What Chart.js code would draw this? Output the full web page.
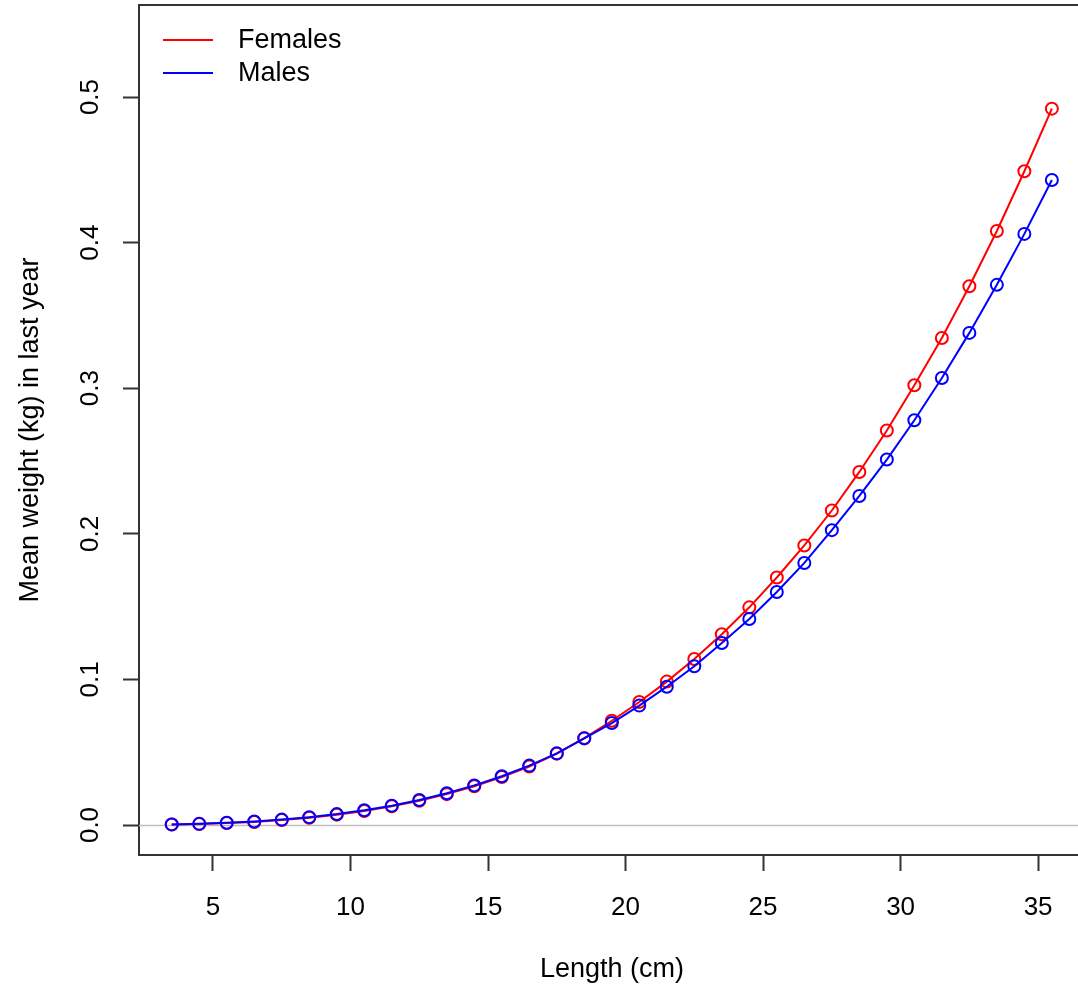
<!DOCTYPE html>
<html>
<head>
<meta charset="utf-8">
<script src="https://cdn.jsdelivr.net/npm/chart.js@4.4.1/dist/chart.umd.min.js"></script>
<style>
  html, body { margin: 0; padding: 0; background: #fff; }
  canvas { display: block; }
</style>
</head>
<body>
<canvas id="graph" width="1078" height="993"></canvas>
<script>
const lengths = [3.5, 4.5, 5.5, 6.5, 7.5, 8.5, 9.5, 10.5, 11.5, 12.5, 13.5, 14.5, 15.5, 16.5, 17.5, 18.5,
  19.5, 20.5, 21.5, 22.5, 23.5, 24.5, 25.5, 26.5, 27.5, 28.5, 29.5, 30.5, 31.5, 32.5, 33.5, 34.5, 35.5]

const females = [0.0003, 0.0007, 0.0013, 0.0021, 0.0034, 0.005, 0.0071, 0.0096, 0.0128, 0.0166, 0.0212,
  0.0266, 0.0329, 0.0402, 0.049, 0.0597, 0.0716, 0.0845, 0.0985, 0.114, 0.131, 0.1495, 0.17, 0.192,
  0.216, 0.2425, 0.271, 0.302, 0.3345, 0.37, 0.408, 0.449, 0.492]

const males = [0.0004, 0.0008, 0.0015, 0.0024, 0.0037, 0.0054, 0.0075, 0.0101, 0.0133, 0.0172, 0.0218,
  0.0272, 0.0335, 0.0408, 0.0492, 0.0595, 0.07, 0.082, 0.095, 0.109, 0.125, 0.1415, 0.16, 0.18,
  0.2025, 0.226, 0.251, 0.278, 0.307, 0.338, 0.371, 0.406, 0.443]

const xTicks = [5, 10, 15, 20, 25, 30, 35]
const yTicks = [0, 0.1, 0.2, 0.3, 0.4, 0.5]
const yTickLabels = ['0.0', '0.1', '0.2', '0.3', '0.4', '0.5']

const seriesNames = ['Females', 'Males']
const seriesColors = ['#ff0000', '#0000ff']

const FONT = '"Liberation Sans", Arial, sans-serif'
const AXIS = '#333333'

const toPoints = (ys) => lengths.map((x, i) => ({ x, y: ys[i] }))

// zero line, box top, rotated y labels, axis titles and legend
const rDecor = {
  id: 'rDecor',
  beforeDatasetsDraw(chart) {
    const { ctx, chartArea: { left, right }, scales: { y } } = chart
    ctx.save()
    ctx.strokeStyle = '#bebebe'
    ctx.lineWidth = 1.5
    const y0 = Math.round(y.getPixelForValue(0)) + 0.5
    ctx.beginPath()
    ctx.moveTo(left, y0)
    ctx.lineTo(right, y0)
    ctx.stroke()
    ctx.restore()
  },
  afterDraw(chart) {
    const { ctx, chartArea: { left, right, top, bottom }, scales: { y } } = chart
    ctx.save()
    // top of the box
    ctx.strokeStyle = AXIS
    ctx.lineWidth = 2
    ctx.beginPath()
    ctx.moveTo(left - 1, top)
    ctx.lineTo(right, top)
    ctx.stroke()

    ctx.fillStyle = '#000'
    ctx.font = '26px ' + FONT
    ctx.textAlign = 'center'
    ctx.textBaseline = 'middle'
    yTicks.forEach((v, i) => {
      ctx.save()
      ctx.translate(91, y.getPixelForValue(v))
      ctx.rotate(-Math.PI / 2)
      ctx.fillText(yTickLabels[i], 0, 0)
      ctx.restore()
    })

    ctx.font = '27px ' + FONT
    ctx.save()
    ctx.translate(31, (top + bottom) / 2)
    ctx.rotate(-Math.PI / 2)
    ctx.fillText('Mean weight (kg) in last year', 0, 0)
    ctx.restore()

    ctx.fillText('Length (cm)', 612, 970)

    // legend
    ctx.textAlign = 'left'
    ctx.lineWidth = 2
    const rows = [40, 73]
    seriesNames.forEach((name, i) => {
      ctx.strokeStyle = seriesColors[i]
      ctx.beginPath()
      ctx.moveTo(163, rows[i])
      ctx.lineTo(213, rows[i])
      ctx.stroke()
      ctx.fillText(name, 238, rows[i] + 1)
    })
    ctx.restore()
  }
}

new Chart(document.getElementById('graph'), {
  type: 'line',
  plugins: [rDecor],
  data: {
    datasets: [
      {
        label: seriesNames[1],
        data: toPoints(males),
        borderColor: seriesColors[1],
        borderWidth: 2,
        pointRadius: 6,
        pointBorderWidth: 2,
        pointBorderColor: seriesColors[1],
        pointBackgroundColor: 'rgba(0,0,0,0)',
        tension: 0
      },
      {
        label: seriesNames[0],
        data: toPoints(females),
        borderColor: seriesColors[0],
        borderWidth: 2,
        pointRadius: 6,
        pointBorderWidth: 2,
        pointBorderColor: seriesColors[0],
        pointBackgroundColor: 'rgba(0,0,0,0)',
        tension: 0
      }
    ]
  },
  options: {
    responsive: false,
    animation: false,
    layout: { autoPadding: false, padding: { top: 5, left: 0, right: 0, bottom: 0 } },
    plugins: { legend: { display: false }, tooltip: { enabled: false } },
    scales: {
      x: {
        type: 'linear',
        min: 2.31,
        max: 36.45,
        afterBuildTicks: (s) => { s.ticks = xTicks.map((v) => ({ value: v })) },
        afterFit: (s) => { s.height = 138 },
        grid: { drawOnChartArea: false, tickLength: 16, tickWidth: 2, tickColor: AXIS },
        border: { color: AXIS, width: 2 },
        ticks: { font: { family: FONT, size: 26 }, color: '#000', padding: 21, maxRotation: 0 }
      },
      y: {
        type: 'linear',
        min: -0.0206,
        max: 0.5632,
        afterBuildTicks: (s) => { s.ticks = yTicks.map((v) => ({ value: v })) },
        afterFit: (s) => { s.width = 139 },
        grid: { drawOnChartArea: false, tickLength: 16, tickWidth: 2, tickColor: AXIS },
        border: { color: AXIS, width: 2 },
        ticks: { display: false }
      }
    }
  }
})
</script>
</body>
</html>
